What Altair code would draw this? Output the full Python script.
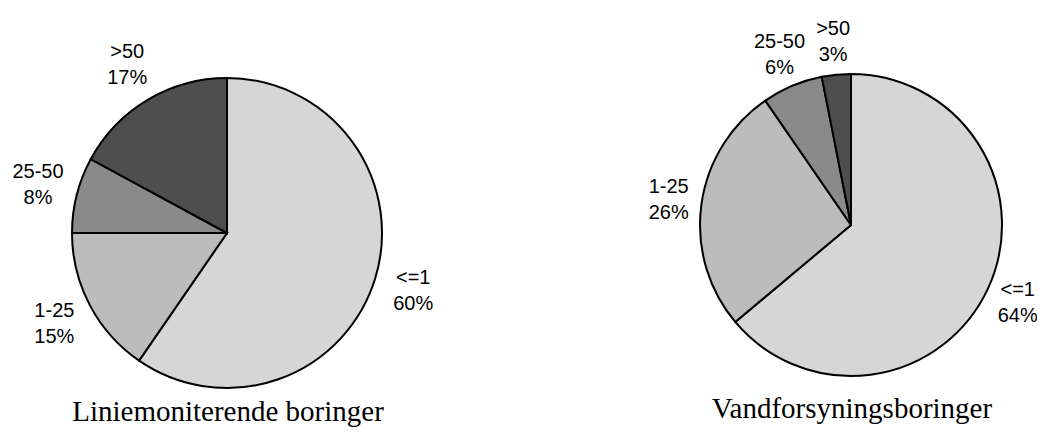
import altair as alt
import pandas as pd

# Data
categories = ["<=1", "1-25", "25-50", ">50"]
left_values = [59.6, 15.4, 7.9, 17.1]
left_labels = ["60%", "15%", "8%", "17%"]
right_values = [63.9, 26.5, 6.5, 3.1]
right_labels = ["64%", "26%", "6%", "3%"]
titles = ["Liniemoniterende boringer", "Vandforsyningsboringer"]

grey_range = ["#d6d6d6", "#bcbcbc", "#8a8a8a", "#4e4e4e"]

OFF = 8  # page margin


def frame(values, labels):
    return pd.DataFrame({
        "cat": categories,
        "val": values,
        "pct": labels,
        "k": list(range(len(categories))),
    })


color = alt.Color("cat:N", scale=alt.Scale(domain=categories, range=grey_range), legend=None)


def pie(df, cx, cy, r, lr):
    base = alt.Chart(df).encode(
        theta=alt.Theta("val:Q", stack=True),
        order=alt.Order("k:Q"),
        x=alt.value(cx - OFF),
        y=alt.value(cy - OFF),
    )
    arcs = base.mark_arc(outerRadius=r, stroke="black", strokeWidth=2).encode(color=color)
    name = base.mark_text(radius=lr, dy=-13, font="Liberation Sans", fontSize=20,
                          color="black", align="center", baseline="middle").encode(
        text="cat:N", detail="cat:N")
    pct = base.mark_text(radius=lr, dy=13, font="Liberation Sans", fontSize=20,
                         color="black", align="center", baseline="middle").encode(
        text="pct:N", detail="cat:N")
    return [arcs, name, pct]


left = pie(frame(left_values, left_labels), 227, 233, 155, 195)
right = pie(frame(right_values, right_labels), 851, 225, 151, 184)

tdf = pd.DataFrame({"t": titles, "i": [0, 1]})
title1 = alt.Chart(tdf).transform_filter("datum.i == 0").mark_text(
    font="Liberation Serif", fontSize=29, color="black", align="center", baseline="alphabetic"
).encode(text="t:N", x=alt.value(228 - OFF), y=alt.value(421 - OFF))
title2 = alt.Chart(tdf).transform_filter("datum.i == 1").mark_text(
    font="Liberation Serif", fontSize=29, color="black", align="center", baseline="alphabetic"
).encode(text="t:N", x=alt.value(852 - OFF), y=alt.value(418 - OFF))

chart = alt.layer(*left, *right, title1, title2).properties(
    width=1029, height=419,
    autosize=alt.AutoSizeParams(type="none"),
    padding=0,
).configure_view(stroke=None)

chart.save("out.html", embed_options={"renderer": "svg", "actions": False})
